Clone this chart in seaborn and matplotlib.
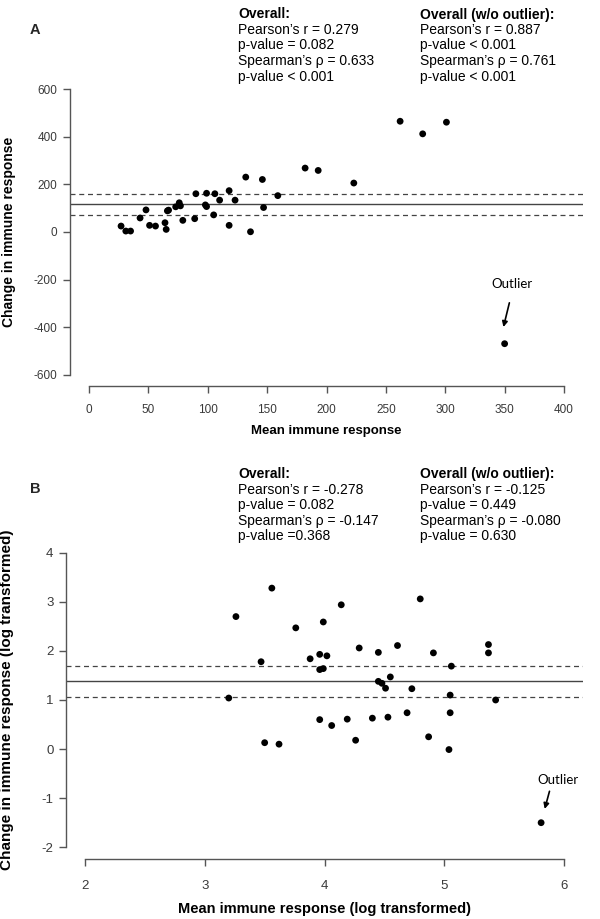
import numpy as np
import pandas as pd
import matplotlib
matplotlib.use("Agg")
import matplotlib.pyplot as plt
import seaborn as sns

# ---------------- data ----------------
a_mean = [27, 31, 35, 43, 48, 51, 56, 64, 65, 66, 67, 73, 76, 77, 79, 89, 90, 98, 99, 99,
          105, 106, 110, 118, 118, 123, 132, 136, 146, 147, 159, 182, 193, 223, 262, 281, 301, 350]
a_diff = [25, 4, 4, 59, 93, 28, 25, 39, 11, 89, 92, 106, 123, 110, 49, 56, 161, 114, 107, 163,
          72, 161, 134, 28, 174, 134, 231, 1, 221, 103, 153, 269, 259, 206, 466, 413, 462, -470]
a_bias = 117
a_ci = [71, 162]

b_mean = [3.56, 3.26, 3.76, 3.99, 4.14, 4.80, 3.47, 3.20, 3.88, 3.96, 4.02, 3.96, 3.99, 4.29,
          4.45, 4.61, 4.45, 4.48, 4.51, 4.55, 4.73, 3.96, 4.06, 4.19, 4.40, 4.53, 4.69, 3.50,
          3.62, 4.26, 4.91, 5.37, 5.37, 5.06, 5.05, 5.43, 5.05, 4.87, 5.04, 5.81]
b_diff = [3.28, 2.70, 2.47, 2.59, 2.94, 3.06, 1.78, 1.04, 1.84, 1.93, 1.90, 1.62, 1.64, 2.06,
          1.97, 2.11, 1.38, 1.34, 1.24, 1.47, 1.23, 0.60, 0.48, 0.61, 0.63, 0.65, 0.74, 0.13,
          0.10, 0.18, 1.96, 2.13, 1.96, 1.69, 1.10, 1.00, 0.74, 0.25, -0.01, -1.50]
b_bias = 1.38
b_ci = [1.07, 1.70]

a_xticks = [0, 50, 100, 150, 200, 250, 300, 350, 400]
a_yticks = [-600, -400, -200, 0, 200, 400, 600]
b_xticks = [2, 3, 4, 5, 6]
b_yticks = [-2, -1, 0, 1, 2, 3, 4]

a_text1 = ["Overall:", "Pearson\u2019s r = 0.279", "p-value = 0.082",
           "Spearman\u2019s \u03c1 = 0.633", "p-value < 0.001"]
a_text2 = ["Overall (w/o outlier):", "Pearson\u2019s r = 0.887", "p-value < 0.001",
           "Spearman\u2019s \u03c1 = 0.761", "p-value < 0.001"]
b_text1 = ["Overall:", "Pearson\u2019s r = -0.278", "p-value = 0.082",
           "Spearman\u2019s \u03c1 = -0.147", "p-value =0.368"]
b_text2 = ["Overall (w/o outlier):", "Pearson\u2019s r = -0.125", "p-value = 0.449",
           "Spearman\u2019s \u03c1 = -0.080", "p-value = 0.630"]

# ---------------- style ----------------
sns.set_theme(style="white")
plt.rcParams['font.family'] = ['Liberation Sans', 'DejaVu Sans']
plt.rcParams['axes.unicode_minus'] = False

W, H = 600, 919
fig = plt.figure(figsize=(6, 9.19), dpi=100)
fig.patch.set_facecolor("white")


def ax_at(l, t, r, b):
    return fig.add_axes([l / W, 1 - b / H, (r - l) / W, (b - t) / H])


AXC = "#555555"
TXC = "#3a3a3a"


def style_axes(ax, xticks, yticks, xlim, ylim, lsize, xpad):
    ax.set_xlim(*xlim)
    ax.set_ylim(*ylim)
    ax.set_xticks(xticks)
    ax.set_yticks(yticks)
    for s in ["top", "right"]:
        ax.spines[s].set_visible(False)
    for s in ["left", "bottom"]:
        ax.spines[s].set_color(AXC)
        ax.spines[s].set_linewidth(1.0)
    ax.spines["left"].set_bounds(yticks[0], yticks[-1])
    ax.spines["bottom"].set_bounds(xticks[0], xticks[-1])
    ax.tick_params(axis="both", direction="out", length=5, width=1.0, color=AXC,
                   labelsize=lsize, labelcolor=TXC, left=True, bottom=True)
    ax.tick_params(axis="x", pad=xpad)
    ax.tick_params(axis="y", pad=4)
    ax.set_facecolor("none")
    ax.grid(False)


def bland(ax, xs, ys, bias, ci):
    df = pd.DataFrame({"mean": xs, "diff": ys})
    sns.scatterplot(data=df, x="mean", y="diff", ax=ax, color="black", s=24,
                    edgecolor="none", linewidth=0, legend=False, zorder=3)
    ax.axhline(bias, color="#444444", lw=1.0, zorder=2)
    for c in ci:
        ax.axhline(c, color="#444444", lw=0.9, ls=(0, (4, 3)), zorder=2)


def outlier_note(ax, text_xy, tail, head):
    ax.text(text_xy[0], text_xy[1], "Outlier", ha="center", va="center", fontsize=9.5,
            family=["Lato", "DejaVu Sans"], color="black")
    ax.annotate("", xy=head, xytext=tail,
                arrowprops=dict(arrowstyle="-|>", color="black", lw=1.2,
                                shrinkA=0, shrinkB=0, mutation_scale=8))


# ---------------- Panel A ----------------
axA = ax_at(70, 78, 583, 386)
bland(axA, a_mean, a_diff, a_bias, a_ci)
style_axes(axA, a_xticks, a_yticks, (-16, 416), (-648, 648), 8.5, 8)
axA.set_xlabel("Mean immune response", fontsize=9.5, fontweight="bold", color="black")
axA.set_ylabel("Change in immune response", fontsize=10, fontweight="bold", color="black")
axA.xaxis.set_label_coords(0.5, -0.125)
axA.yaxis.set_label_coords(-0.105, 0.5)
outlier_note(axA, (356, -220), (354, -298), (349, -400))

# ---------------- Panel B ----------------
axB = ax_at(66, 541, 583, 859)
bland(axB, b_mean, b_diff, b_bias, b_ci)
style_axes(axB, b_xticks, b_yticks, (1.84, 6.16), (-2.24, 4.24), 9.5, 10)
axB.set_xlabel("Mean immune response (log transformed)", fontsize=10.5, fontweight="bold",
               color="black")
axB.set_ylabel("Change in immune response (log transformed)", fontsize=11,
               fontweight="bold", color="black")
axB.xaxis.set_label_coords(0.5, -0.135)
axB.yaxis.set_label_coords(-0.1, 0.5)
outlier_note(axB, (5.95, -0.64), (5.88, -0.86), (5.84, -1.22))

# ---------------- text blocks ----------------
def block(lines, x, y0, dy=15.5):
    for i, t in enumerate(lines):
        fig.text(x / W, 1 - (y0 + i * dy) / H, t, fontsize=10, color="black",
                 fontweight="bold" if i == 0 else "normal", va="center", ha="left")


block(a_text1, 238, 14.5)
block(a_text2, 420, 14.5)
block(b_text1, 238, 474)
block(b_text2, 420, 474)

fig.text(30 / W, 1 - 30 / H, "A", fontsize=10.5, fontweight="bold", va="center")
fig.text(30 / W, 1 - 489 / H, "B", fontsize=10.5, fontweight="bold", va="center")

fig.savefig("out.png", dpi=100, facecolor="white")
